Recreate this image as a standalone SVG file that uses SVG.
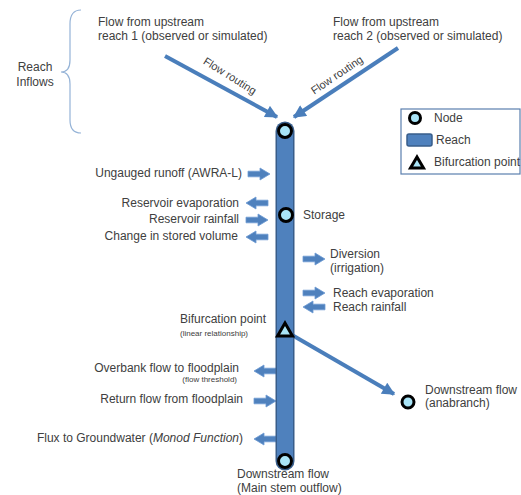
<svg xmlns="http://www.w3.org/2000/svg" width="521" height="495" viewBox="0 0 521 495">
<style>
text{font-family:"Liberation Sans",Arial,sans-serif;font-size:12px;fill:#404040}
.sm{font-size:8px}
.r{text-anchor:end}
.m{text-anchor:middle}
.node{fill:#a9e4f7;stroke:#000;stroke-width:3}
.big{stroke:#4a7ebb;stroke-width:4;fill:none}
.blk{fill:#4f81bd;stroke:#6d9bd3;stroke-width:0.8}
</style>
<defs>
<marker id="ah" viewBox="0 0 10 10" refX="9" refY="5" markerWidth="3.4" markerHeight="3.2" orient="auto" markerUnits="strokeWidth">
<path d="M0,0 L10,5 L0,10 z" fill="#4a7ebb"/>
</marker>
<path id="ar" d="M-11,-2.8 L1,-2.8 L1,-6 L11,0 L1,6 L1,2.8 L-11,2.8 z"/>
</defs>
<g id="connectors">
<line class="big" x1="165" y1="56" x2="277" y2="117" marker-end="url(#ah)"/>
<line class="big" x1="398" y1="48" x2="294" y2="117" marker-end="url(#ah)"/>
<line class="big" x1="292" y1="335" x2="394" y2="394" marker-end="url(#ah)"/>
<path d="M81,10 Q70,10 70,24 L70,60 Q70,72 61,72 Q70,72 70,84 L70,120 Q70,133 81,133" fill="none" stroke="#95b3d7" stroke-width="1.2"/>
<use href="#ar" class="blk" x="259" y="174"/>
<use href="#ar" class="blk" transform="translate(257,203) rotate(180)"/>
<use href="#ar" class="blk" x="257" y="220"/>
<use href="#ar" class="blk" transform="translate(257,237) rotate(180)"/>
<use href="#ar" class="blk" x="314" y="259"/>
<use href="#ar" class="blk" x="314" y="293"/>
<use href="#ar" class="blk" transform="translate(314,307) rotate(180)"/>
<use href="#ar" class="blk" transform="translate(265,371) rotate(180)"/>
<use href="#ar" class="blk" x="265" y="401"/>
<use href="#ar" class="blk" transform="translate(265,439) rotate(180)"/>
</g>
<g id="reach">
<line x1="285" y1="131" x2="285" y2="461" stroke="#385d8a" stroke-width="19" stroke-linecap="round"/>
<line x1="285" y1="131" x2="285" y2="461" stroke="#4f81bd" stroke-width="16" stroke-linecap="round"/>
</g>
<g id="node-top"><circle class="node" cx="285" cy="131" r="6.5"/></g>
<g id="node-storage"><circle class="node" cx="286" cy="215" r="6.5"/><text x="303" y="219">Storage</text></g>
<g id="bifurcation"><path class="node" d="M285,323 L292.5,336 L277.5,336 z" stroke-linejoin="miter"/>
<text x="180" y="323">Bifurcation point</text><text x="180" y="336" class="sm">(linear relationship)</text></g>
<g id="node-bottom"><circle class="node" cx="285" cy="461" r="6.5"/><text x="237" y="478">Downstream flow</text><text x="237" y="492">(Main stem outflow)</text></g>
<g id="node-anabranch"><circle class="node" cx="408" cy="402" r="6"/><text x="425" y="394">Downstream flow</text><text x="425" y="407">(anabranch)</text></g>
<g id="inflows">
<text x="98" y="26">Flow from upstream</text><text x="98" y="40">reach 1 (observed or simulated)</text>
<text x="333" y="26">Flow from upstream</text><text x="333" y="40">reach 2 (observed or simulated)</text>
<text x="35" y="71" class="m">Reach</text><text x="35" y="86" class="m">Inflows</text>
<text transform="translate(228,79) rotate(32)" class="m" style="font-size:11px">Flow routing</text>
<text transform="translate(339,78) rotate(-34)" class="m" style="font-size:11px">Flow routing</text>
</g>
<g id="fluxes">
<text x="242" y="177" class="r">Ungauged runoff  (AWRA-L)</text>
<text x="239" y="207" class="r">Reservoir evaporation</text>
<text x="239" y="223" class="r">Reservoir rainfall</text>
<text x="238" y="240" class="r">Change in stored volume</text>
<text x="330" y="258">Diversion</text><text x="330" y="272">(irrigation)</text>
<text x="333" y="297">Reach evaporation</text>
<text x="333" y="311">Reach rainfall</text>
<text x="239" y="372" class="r">Overbank flow to floodplain</text>
<text x="237" y="382" class="r sm">(flow threshold)</text>
<text x="243" y="403" class="r">Return flow from floodplain</text>
<text x="243" y="442" class="r">Flux to Groundwater (<tspan font-style="italic">Monod Function</tspan>)</text>
</g>
<g id="legend">
<rect x="401" y="109" width="119" height="65" fill="#fff" stroke="#5a7fae" stroke-width="1.2"/>
<circle class="node" cx="415" cy="118" r="5.5"/><text x="434" y="122">Node</text>
<rect x="407" y="134" width="25" height="12" rx="2" fill="#4f81bd" stroke="#385d8a" stroke-width="1.5"/><text x="436" y="144">Reach</text>
<path class="node" d="M417,157 L423.5,168 L410.5,168 z"/><text x="434" y="166">Bifurcation point</text>
</g>
</svg>
